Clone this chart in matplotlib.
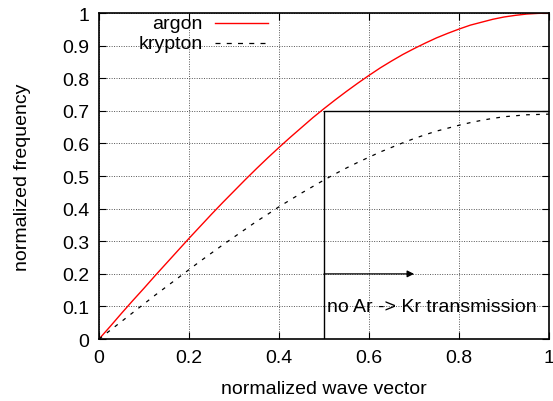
import matplotlib
matplotlib.use("Agg")
import matplotlib.pyplot as plt

plt.rcParams['font.family'] = ['Liberation Sans', 'DejaVu Sans']

# dispersion curves, sampled every 0.025 in normalized wave vector
k = [i * 0.025 for i in range(41)]
argon = [0.0, 0.039, 0.079, 0.118, 0.156, 0.195, 0.233, 0.271, 0.309, 0.346,
         0.383, 0.419, 0.454, 0.489, 0.523, 0.556, 0.588, 0.619, 0.649, 0.679,
         0.707, 0.734, 0.760, 0.785, 0.809, 0.832, 0.853, 0.873, 0.891, 0.908,
         0.924, 0.938, 0.951, 0.963, 0.972, 0.981, 0.988, 0.993, 0.997, 0.999, 1.0]
krypton = [0.0, 0.027, 0.054, 0.081, 0.108, 0.135, 0.161, 0.187, 0.213, 0.239,
           0.264, 0.289, 0.313, 0.337, 0.361, 0.383, 0.406, 0.427, 0.448, 0.468,
           0.488, 0.507, 0.525, 0.542, 0.558, 0.574, 0.588, 0.602, 0.615, 0.627,
           0.638, 0.647, 0.656, 0.664, 0.671, 0.677, 0.682, 0.685, 0.688, 0.689, 0.690]

# region where argon modes cannot pass into krypton
gap_k = [0.5, 0.5, 1.0]
gap_w = [0.0, 0.7, 0.7]
arrow_start = (0.5, 0.2)
arrow_end = (0.7, 0.2)
gap_label = "no Ar -> Kr transmission"

xticks = [0, 0.2, 0.4, 0.6, 0.8, 1]
yticks = [0, 0.1, 0.2, 0.3, 0.4, 0.5, 0.6, 0.7, 0.8, 0.9, 1]

fs = 14

fig = plt.figure(figsize=(5.53, 4.02), dpi=100)
ax = fig.add_axes([0.179, 0.154, 0.814, 0.811])

ax.plot(k, argon, color='red', lw=1.0)
ax.plot(k, krypton, color='black', lw=0.9, ls=(0, (3, 5)))
ax.plot(gap_k, gap_w, color='black', lw=1.0)
ax.annotate('', xy=arrow_end, xytext=arrow_start,
            arrowprops=dict(arrowstyle='-|>', color='black', lw=0.9,
                            mutation_scale=10, shrinkA=0, shrinkB=0))
ax.text(0.507, 0.1, gap_label, fontsize=fs, va='center', ha='left')

# gnuplot-style key: right-aligned labels followed by the line sample
tr = ax.transAxes
ax.text(0.231, 0.969, 'argon', transform=tr, fontsize=fs, ha='right', va='center')
ax.plot([0.258, 0.376], [0.969, 0.969], transform=tr, color='red', lw=1.0)
ax.text(0.231, 0.908, 'krypton', transform=tr, fontsize=fs, ha='right', va='center')
ax.plot([0.258, 0.376], [0.908, 0.908], transform=tr, color='black', lw=0.9,
        ls=(0, (4, 5)))

ax.set_xlim(0, 1)
ax.set_ylim(0, 1)
ax.set_xticks(xticks)
ax.set_xticklabels([f"{t:g}" for t in xticks])
ax.set_yticks(yticks)
ax.set_yticklabels([f"{t:g}" for t in yticks])
ax.tick_params(direction='in', top=True, right=True, length=5, labelsize=fs, pad=7)
ax.grid(True, color='#555555', ls=(0, (1, 1.5)), lw=0.7)
for s in ax.spines.values():
    s.set_linewidth(1.2)

ax.set_xlabel('normalized wave vector', fontsize=fs, labelpad=10)
ax.set_ylabel('normalized frequency', fontsize=fs, labelpad=22)

fig.savefig('out.png', dpi=100)
